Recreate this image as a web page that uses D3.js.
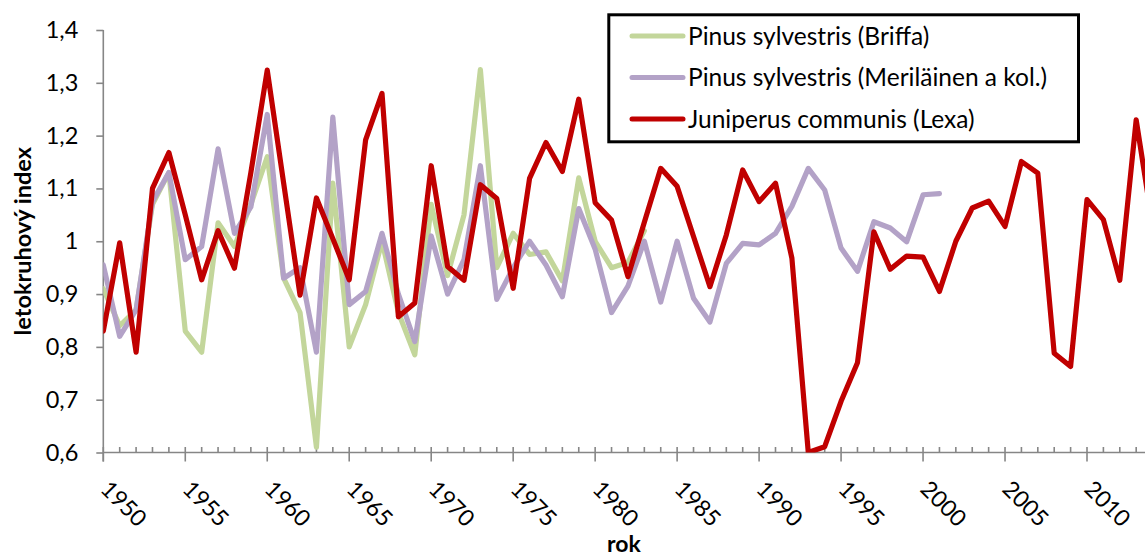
<!DOCTYPE html>
<html lang="cs">
<head>
<meta charset="utf-8">
<title>Letokruhový index</title>
<script src="https://cdn.jsdelivr.net/npm/d3@7"></script>
<style>
  html, body { margin: 0; padding: 0; background: #fff; overflow: hidden; }
  svg { display: block; }
  text { font-family: Lato, "Noto Sans", sans-serif; fill: #000; }
</style>
</head>
<body>
<svg id="chart" width="1145" height="556"></svg>
<script>
// Years covered by the chronologies
const years = d3.range(1950, 2015);

// Pinus sylvestris (Briffa), 1950–1983
const briffa = [
  0.91, 0.84, 0.87, 1.07, 1.13, 0.83, 0.79, 1.035, 0.99, 1.07,
  1.16, 0.93, 0.865, 0.61, 1.11, 0.80, 0.88, 1.00, 0.865, 0.785,
  1.07, 0.935, 1.05, 1.325, 0.95, 1.015, 0.975, 0.98, 0.925, 1.12,
  1.00, 0.95, 0.96, 1.02
];

// Pinus sylvestris (Meriläinen a kol.), 1950–2001
const merilainen = [
  0.955, 0.82, 0.87, 1.075, 1.13, 0.965, 0.99, 1.175, 1.015, 1.065,
  1.24, 0.93, 0.95, 0.79, 1.235, 0.88, 0.905, 1.015, 0.90, 0.81,
  1.01, 0.90, 0.965, 1.143, 0.89, 0.95, 1.00, 0.955, 0.895, 1.062,
  0.985, 0.865, 0.915, 1.00, 0.885, 1.00, 0.892, 0.847, 0.958, 0.996,
  0.993, 1.015, 1.066, 1.138, 1.097, 0.987, 0.943, 1.037, 1.025, 0.999,
  1.088, 1.09
];

// Juniperus communis (Lexa), 1950–2014
const lexa = [
  0.83, 0.997, 0.79, 1.10, 1.168, 1.05, 0.927, 1.02, 0.949, 1.13,
  1.324, 1.11, 0.898, 1.082, 1.005, 0.927, 1.192, 1.28, 0.857, 0.883,
  1.143, 0.952, 0.926, 1.107, 1.081, 0.911, 1.119, 1.187, 1.132, 1.269,
  1.073, 1.04, 0.933, 1.036, 1.138, 1.104, 1.009, 0.914, 1.012, 1.135,
  1.075, 1.11, 0.968, 0.60, 0.611, 0.697, 0.77, 1.018, 0.947, 0.972,
  0.97, 0.905, 1.00, 1.063, 1.076, 1.028, 1.151, 1.129, 0.788, 0.763,
  1.079, 1.041, 0.926, 1.23, 1.03
];

const seriesNames = [
  "Pinus sylvestris (Briffa)",
  "Pinus sylvestris (Meriläinen a kol.)",
  "Juniperus communis (Lexa)"
];
const seriesColors = ["#c3d69b", "#b3a2c7", "#c00000"];

const yTicks = [0.6, 0.7, 0.8, 0.9, 1.0, 1.1, 1.2, 1.3, 1.4];
const xMajorTicks = [1950, 1955, 1960, 1965, 1970, 1975, 1980, 1985, 1990, 1995, 2000, 2005, 2010];
const xTitle = "rok";
const yTitle = "letokruhový index";

// ---- layout ----
const svg = d3.select("#chart");
const plotLeft = 103.3, plotTop = 30, plotBottom = 452.5;
const pxPerYear = 16.395;
const plotRight = plotLeft + (2014 - 1950) * pxPerYear;

const x = d3.scaleLinear().domain([1950, 2014]).range([plotLeft, plotRight]);
const y = d3.scaleLinear().domain([0.6, 1.4]).range([plotBottom, plotTop]);

const axisColor = "#868686";
const fmt = v => (v === 1 ? "1" : d3.format(".1f")(v).replace(".", ","));

// clip region for the data lines
svg.append("defs").append("clipPath").attr("id", "plot-clip")
  .append("rect")
  .attr("x", plotLeft).attr("y", plotTop - 10)
  .attr("width", plotRight - plotLeft + 20).attr("height", plotBottom - plotTop + 10);

// ---- y axis ----
const yAxis = d3.axisLeft(y).tickValues(yTicks).tickFormat(fmt).tickSize(7).tickPadding(18);
const gy = svg.append("g").attr("transform", `translate(${plotLeft},0)`).call(yAxis);
gy.select(".domain").attr("stroke", axisColor).attr("stroke-width", 1.6)
  .attr("d", `M0,${plotTop}V${plotBottom + 9}`);
gy.selectAll(".tick line").attr("stroke", axisColor).attr("stroke-width", 1.6).attr("x2", -7);
gy.selectAll(".tick text")
  .attr("font-family", "Lato, 'Noto Sans', sans-serif")
  .attr("font-size", 23.5).attr("fill", "#000");

// ---- x axis: minor ticks each year, major ticks every five years ----
const gx = svg.append("g").attr("transform", `translate(0,${plotBottom})`);
gx.append("line")
  .attr("x1", plotLeft).attr("x2", plotRight)
  .attr("stroke", axisColor).attr("stroke-width", 1.6);
gx.selectAll("line.minor").data(years.filter(v => v % 5 !== 0)).join("line")
  .attr("class", "minor")
  .attr("x1", d => x(d)).attr("x2", d => x(d))
  .attr("y1", -5.5).attr("y2", 0)
  .attr("stroke", axisColor).attr("stroke-width", 1.6);
gx.selectAll("line.major").data(years.filter(v => v % 5 === 0)).join("line")
  .attr("class", "major")
  .attr("x1", d => x(d)).attr("x2", d => x(d))
  .attr("y1", -5.5).attr("y2", 9)
  .attr("stroke", axisColor).attr("stroke-width", 1.6);
gx.selectAll("text").data(xMajorTicks).join("text")
  .attr("transform", d => `translate(${x(d) - 4},${38}) rotate(45)`)
  .attr("font-size", 23)
  .attr("text-anchor", "start")
  .text(d => d);

// ---- data lines ----
const line = d3.line()
  .defined(d => d.v != null)
  .x(d => x(d.year))
  .y(d => y(d.v));

const allSeries = [briffa, merilainen, lexa].map((vals, i) => ({
  name: seriesNames[i],
  color: seriesColors[i],
  points: vals.map((v, j) => ({ year: years[j], v }))
}));

const gLines = svg.append("g").attr("clip-path", "url(#plot-clip)");
gLines.selectAll("path").data(allSeries).join("path")
  .attr("d", d => line(d.points))
  .attr("fill", "none")
  .attr("stroke", d => d.color)
  .attr("stroke-width", 5.2)
  .attr("stroke-linejoin", "round")
  .attr("stroke-linecap", "round");

// ---- axis titles ----
svg.append("text")
  .attr("transform", `translate(22,${(plotTop + plotBottom) / 2}) rotate(-90)`)
  .attr("text-anchor", "middle")
  .attr("dominant-baseline", "central")
  .attr("font-size", 23.5).attr("font-weight", "bold")
  .text(yTitle);

svg.append("text")
  .attr("x", 624).attr("y", 552)
  .attr("text-anchor", "middle")
  .attr("font-size", 23).attr("font-weight", "bold")
  .text(xTitle);

// ---- legend ----
const lg = svg.append("g");
lg.append("rect")
  .attr("x", 608.8).attr("y", 14.8)
  .attr("width", 469.7).attr("height", 127)
  .attr("fill", "#fff").attr("stroke", "#000").attr("stroke-width", 3);
const items = lg.selectAll("g.item").data(allSeries).join("g")
  .attr("class", "item")
  .attr("transform", (d, i) => `translate(0,${36 + i * 41.5})`);
items.append("line")
  .attr("x1", 632).attr("x2", 683)
  .attr("stroke", d => d.color).attr("stroke-width", 5)
  .attr("stroke-linecap", "round");
items.append("text")
  .attr("x", 688).attr("dy", "0.35em")
  .attr("font-size", 24.5)
  .text(d => d.name);
</script>
</body>
</html>
